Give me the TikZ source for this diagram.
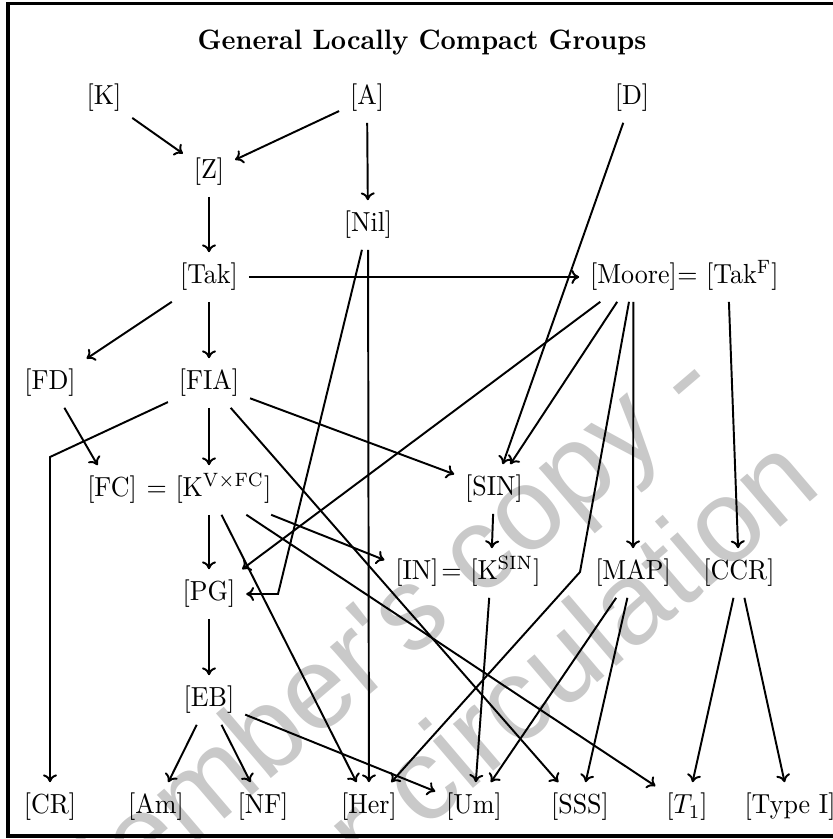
\documentclass[tikz,border=0pt]{standalone}
\usepackage{fontspec}
\usetikzlibrary{arrows.meta}
\newfontfamily\wmfont{Liberation Sans}
\definecolor{wmgray}{gray}{0.79}
\begin{document}
\begin{tikzpicture}[x=0.3846pt, y=-0.3846pt,
  n/.style={inner xsep=4pt, inner ysep=3.8pt, text height=7.5pt, text depth=2.5pt, yscale=1.06, transform shape},
  arr/.style={-{To[length=3pt,width=5.4pt]}, line width=0.75pt},
  wm/.style={text=wmgray, font=\wmfont\fontsize{45}{54}\selectfont, inner sep=0pt, rotate=40.5, anchor=base}]
\useasboundingbox (0,0) rectangle (833,839);
% watermark
\node[wm] (wm1) at (395,673) {Member's copy -};
\node[wm] (wm2) at (485,779) {not for circulation};
% frame
\draw[line width=1.35pt] (8,3.5) rectangle (850,836);
% title
\node[font=\bfseries, xscale=1.02, yscale=1.08, transform shape] (title) at (422,43) {General Locally Compact Groups};
% nodes
\node[n] (K) at (104,98) {[K]};
\node[n] (A) at (367,98) {[A]};
\node[n] (D) at (632,98) {[D]};
\node[n] (Z) at (209,172) {[Z]};
\node[n] (Nil) at (368,225) {[Nil]};
\node[n] (Tak) at (209,277) {[Tak]};
\node[n] (Moore) at (633.5,277) {[Moore]};
\node[n] (TakF) at (728,277) {$=$ [Tak$^{\mathrm{F}}$]};
\node[n] (FD) at (50,383) {[FD]};
\node[n] (FIA) at (209,383) {[FIA]};
\node[n] (FC) at (112,490) {[FC]};
\node[n] (KVFC) at (209,490) {$=$ [K$^{\mathrm{V}\times\mathrm{FC}}$]};
\node[n] (SIN) at (494,489) {[SIN]};
\node[n] (IN) at (417,573) {[IN]};
\node[n] (KSIN) at (491,573) {$=$ [K$^{\mathrm{SIN}}$]};
\node[n] (MAP) at (633,573) {[MAP]};
\node[n] (CCR) at (739,573) {[CCR]};
\node[n] (PG) at (209,594) {[PG]};
\node[n] (EB) at (209,700) {[EB]};
\node[n] (CR) at (50,807) {[CR]};
\node[n] (Am) at (156,807) {[Am]};
\node[n] (NF) at (263,807) {[NF]};
\node[n] (Her) at (369,807) {[Her]};
\node[n] (Um) at (474,807) {[Um]};
\node[n] (SSS) at (580,807) {[SSS]};
\node[n] (T1) at (687,807) {[$T_1$]};
\node[n] (TypeI) at (790,807) {[Type I]};
% bend points
\coordinate (c1) at (50,457);
\coordinate (c2) at (278,594);
\coordinate (c3) at (580,572);
% connectors
\draw[arr] (K) -- (Z);
\draw[arr] (A) -- (Z);
\draw[arr] (A) -- (Nil);
\draw[arr] (D) -- (SIN);
\draw[arr] (Z) -- (Tak);
\draw[arr] (Tak) -- (Moore);
\draw[arr] (Tak) -- (FD);
\draw[arr] (Tak) -- (FIA);
\draw[arr] (FD) -- (FC);
\draw[arr] (FIA) -- (KVFC);
\draw[arr] (FIA) -- (c1) -- (CR);
\draw[arr] (FIA) -- (SIN);
\draw[arr] (FIA) -- (SSS);
\draw[arr] (Nil) -- (Her);
\draw[arr] (Nil) -- (c2) -- (PG);
\draw[arr] (Moore) -- (PG);
\draw[arr] (Moore) -- (SIN);
\draw[arr] (Moore) -- (c3) -- (Her);
\draw[arr] (Moore) -- (MAP);
\draw[arr] (TakF) -- (CCR);
\draw[arr] (SIN) -- (KSIN);
\draw[arr] (KVFC) -- (PG);
\draw[arr] (KVFC) -- (Her);
\draw[arr] (KVFC) -- (T1);
\draw[arr] (KVFC) -- (IN);
\draw[arr] (PG) -- (EB);
\draw[arr] (EB) -- (Am);
\draw[arr] (EB) -- (NF);
\draw[arr] (EB) -- (Um);
\draw[arr] (KSIN) -- (Um);
\draw[arr] (MAP) -- (Um);
\draw[arr] (MAP) -- (SSS);
\draw[arr] (CCR) -- (T1);
\draw[arr] (CCR) -- (TypeI);
\end{tikzpicture}
\end{document}
